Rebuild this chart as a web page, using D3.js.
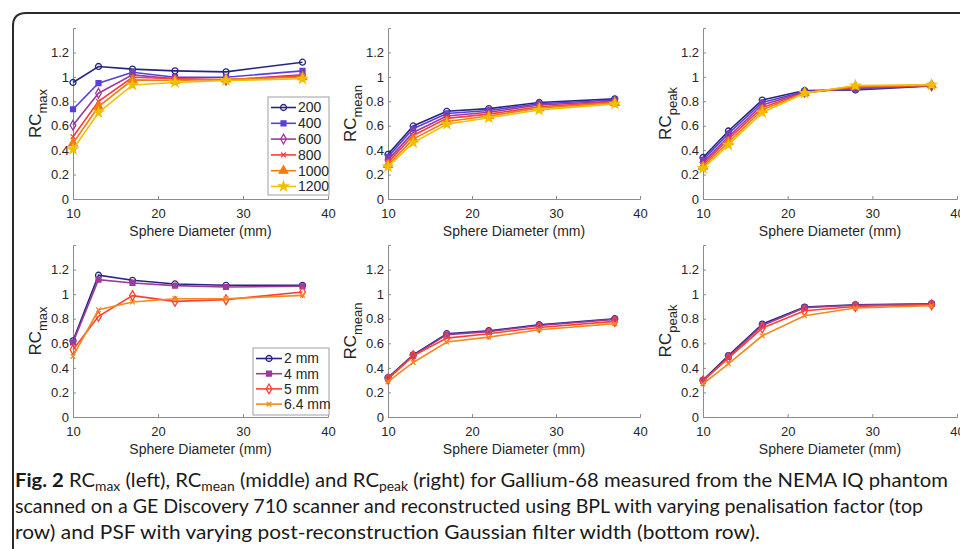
<!DOCTYPE html>
<html>
<head>
<meta charset="utf-8">
<script src="https://cdn.jsdelivr.net/npm/d3@7"></script>
<style>
  body { margin: 0; background: #fff; }
  svg { display: block; }
  .tick text { font-family: "Liberation Sans", Arial, sans-serif; font-size: 13px; fill: #262626; }
</style>
</head>
<body>
<div id="fig"></div>
<script>
// sphere diameters (mm)
var diameters = [10, 13, 17, 22, 28, 37];

// BPL penalisation factors (top row)
var penaltyLabels = ["200", "400", "600", "800", "1000", "1200"];
var bplMax = [
  [0.954, 1.085, 1.063, 1.049, 1.041, 1.12],
  [0.735, 0.948, 1.038, 0.997, 0.997, 1.049],
  [0.604, 0.866, 1.016, 0.984, 0.975, 1.016],
  [0.51, 0.80, 0.997, 0.984, 0.975, 1.008],
  [0.456, 0.757, 0.975, 0.97, 0.98, 0.997],
  [0.407, 0.708, 0.934, 0.954, 0.97, 0.984]
];
var bplMean = [
  [0.366, 0.598, 0.718, 0.74, 0.79, 0.82],
  [0.345, 0.575, 0.70, 0.725, 0.78, 0.81],
  [0.32, 0.545, 0.68, 0.71, 0.77, 0.80],
  [0.30, 0.52, 0.66, 0.695, 0.755, 0.795],
  [0.28, 0.49, 0.635, 0.68, 0.745, 0.787],
  [0.265, 0.462, 0.612, 0.665, 0.73, 0.779]
];
var bplPeak = [
  [0.34, 0.557, 0.81, 0.888, 0.893, 0.926],
  [0.32, 0.535, 0.79, 0.88, 0.90, 0.927],
  [0.30, 0.51, 0.77, 0.875, 0.91, 0.928],
  [0.28, 0.49, 0.75, 0.87, 0.915, 0.93],
  [0.265, 0.465, 0.73, 0.867, 0.922, 0.932],
  [0.25, 0.443, 0.708, 0.866, 0.929, 0.934]
];

// PSF Gaussian filter widths (bottom row)
var filterLabels = ["2 mm", "4 mm", "5 mm", "6.4 mm"];
var psfMax = [
  [0.62, 1.154, 1.113, 1.083, 1.072, 1.072],
  [0.607, 1.118, 1.091, 1.069, 1.058, 1.064],
  [0.547, 0.819, 0.988, 0.941, 0.955, 1.018],
  [0.493, 0.873, 0.936, 0.963, 0.963, 0.99]
];
var psfMean = [
  [0.321, 0.506, 0.678, 0.702, 0.751, 0.80],
  [0.315, 0.50, 0.67, 0.695, 0.745, 0.795],
  [0.31, 0.498, 0.642, 0.678, 0.729, 0.778],
  [0.288, 0.444, 0.61, 0.65, 0.71, 0.76]
];
var psfPeak = [
  [0.30, 0.50, 0.756, 0.895, 0.914, 0.922],
  [0.295, 0.49, 0.745, 0.89, 0.91, 0.92],
  [0.294, 0.479, 0.724, 0.865, 0.90, 0.914],
  [0.27, 0.433, 0.661, 0.824, 0.887, 0.906]
];

var xTicks = [10, 20, 30, 40];
var yTicks = [0, 0.2, 0.4, 0.6, 0.8, 1, 1.2];

// series styles
var bplStyle = [
  { color: "#262680", symbol: d3.symbolCircle, fill: false },
  { color: "#5b3fd9", symbol: d3.symbolSquare, fill: true, size: 24 },
  { color: "#9b3c9b", symbol: d3.symbolDiamond, fill: false },
  { color: "#ff3b3b", symbol: d3.symbolTimes, fill: false, size: 16 },
  { color: "#f07d10", symbol: d3.symbolTriangle, fill: true, size: 32 },
  { color: "#f0c000", symbol: d3.symbolStar, fill: true, size: 26 }
];
var psfStyle = [
  { color: "#262680", symbol: d3.symbolCircle, fill: false },
  { color: "#9b3c9b", symbol: d3.symbolSquare, fill: true, size: 24 },
  { color: "#ff4030", symbol: d3.symbolDiamond, fill: false },
  { color: "#f08a20", symbol: d3.symbolTimes, fill: false, size: 16 }
];

var width = 960, height = 549;

var svg = d3.select("#fig").append("svg")
  .attr("width", width)
  .attr("height", height);

// rounded figure frame
svg.append("path")
  .attr("d", "M13,549 V26 Q13,13 26,13 H960")
  .attr("fill", "none")
  .attr("stroke", "#2a2a2a")
  .attr("stroke-width", 2);

var font = '"Liberation Sans", Arial, sans-serif';

function panel(opt) {
  var x = d3.scaleLinear().domain([10, 40]).range(opt.xr);
  var y = d3.scaleLinear().domain([0, 1.4]).range(opt.yr);
  var g = svg.append("g");

  // axes (inside ticks, no box)
  var xa = g.append("g")
    .attr("transform", "translate(0," + opt.yr[0] + ")")
    .call(d3.axisBottom(x).tickValues(xTicks).tickSize(-3).tickPadding(7).tickFormat(d3.format("d")));
  var ya = g.append("g")
    .attr("transform", "translate(" + opt.xr[0] + ",0)")
    .call(d3.axisLeft(y).tickValues(yTicks).tickSize(-3).tickPadding(4).tickFormat(function(d) { return d; }));
  [xa, ya].forEach(function(a) {
    a.select(".domain").attr("stroke", "#8c8c8c").attr("stroke-width", 1);
    a.selectAll(".tick line").attr("stroke", "#8c8c8c");
  });
  xa.selectAll(".tick text").attr("dy", "0.9em");

  // x label
  g.append("text")
    .attr("x", (opt.xr[0] + opt.xr[1]) / 2)
    .attr("y", opt.yr[0] + 37)
    .attr("text-anchor", "middle")
    .attr("font-family", font)
    .attr("font-size", 14)
    .attr("fill", "#262626")
    .text("Sphere Diameter (mm)");

  // y label with subscript
  var yl = g.append("text")
    .attr("transform", "translate(" + (opt.xr[0] - 32) + "," + y(0.7) + ") rotate(-90)")
    .attr("text-anchor", "middle")
    .attr("font-family", font)
    .attr("font-size", 17)
    .attr("fill", "#262626");
  yl.append("tspan").text("RC");
  yl.append("tspan").attr("font-size", 13).attr("dy", 6).text(opt.sub);

  var line = d3.line()
    .x(function(d, i) { return x(diameters[i]); })
    .y(function(d) { return y(d); });

  opt.data.forEach(function(series, si) {
    var st = opt.styles[si];
    g.append("path")
      .datum(series)
      .attr("fill", "none")
      .attr("stroke", st.color)
      .attr("stroke-width", 1.6)
      .attr("d", line);
    g.selectAll(null)
      .data(series)
      .enter().append("path")
      .attr("transform", function(d, i) { return "translate(" + x(diameters[i]) + "," + y(d) + ")"; })
      .attr("d", d3.symbol().type(st.symbol).size(st.size || 28))
      .attr("fill", st.fill ? st.color : "none")
      .attr("stroke", st.color)
      .attr("stroke-width", 1.3);
  });

  if (opt.legend) {
    var L = opt.legend;
    var lg = g.append("g");
    lg.append("rect")
      .attr("x", L.x0).attr("y", L.y0)
      .attr("width", L.x1 - L.x0).attr("height", L.y1 - L.y0)
      .attr("fill", "#fff").attr("stroke", "#a0a0a0").attr("stroke-width", 1);
    L.labels.forEach(function(lab, i) {
      var st = opt.styles[i];
      var cy = L.first + i * L.step;
      lg.append("line")
        .attr("x1", L.lx0).attr("x2", L.lx1).attr("y1", cy).attr("y2", cy)
        .attr("stroke", st.color).attr("stroke-width", 1.6);
      lg.append("path")
        .attr("transform", "translate(" + (L.lx0 + L.lx1) / 2 + "," + cy + ")")
        .attr("d", d3.symbol().type(st.symbol).size(st.size || 28))
        .attr("fill", st.fill ? st.color : "none")
        .attr("stroke", st.color)
        .attr("stroke-width", 1.3);
      lg.append("text")
        .attr("x", L.lx1 + 2).attr("y", cy)
        .attr("dy", "0.35em")
        .attr("font-family", font)
        .attr("font-size", 14)
        .attr("fill", "#262626")
        .text(lab);
    });
  }
}

var cols = [[73, 328], [388, 640], [703, 957]];
var rows = [[199, 28], [417, 245]];

panel({ xr: cols[0], yr: rows[0], sub: "max", data: bplMax, styles: bplStyle,
  legend: { x0: 268, x1: 329, y0: 97, y1: 195, first: 107.5, step: 15.8, lx0: 271, lx1: 296, labels: penaltyLabels } });
panel({ xr: cols[1], yr: rows[0], sub: "mean", data: bplMean, styles: bplStyle });
panel({ xr: cols[2], yr: rows[0], sub: "peak", data: bplPeak, styles: bplStyle });
panel({ xr: cols[0], yr: rows[1], sub: "max", data: psfMax, styles: psfStyle,
  legend: { x0: 253, x1: 329, y0: 348, y1: 415, first: 358.5, step: 15.2, lx0: 256, lx1: 282, labels: filterLabels } });
panel({ xr: cols[1], yr: rows[1], sub: "mean", data: psfMean, styles: psfStyle });
panel({ xr: cols[2], yr: rows[1], sub: "peak", data: psfPeak, styles: psfStyle });

// caption
var capFont = 'Lato, "Open Sans", sans-serif';
var cap = svg.append("g")
  .attr("font-family", capFont)
  .attr("font-size", 19)
  .attr("fill", "#1a1a1a");

var l1 = cap.append("text").attr("x", 15).attr("y", 487)
  .attr("textLength", 933).attr("lengthAdjust", "spacingAndGlyphs");
l1.append("tspan").attr("font-weight", "bold").text("Fig. 2");
l1.append("tspan").text(" RC");
l1.append("tspan").attr("font-size", 13).attr("dy", 4).text("max");
l1.append("tspan").attr("dy", -4).text(" (left), RC");
l1.append("tspan").attr("font-size", 13).attr("dy", 4).text("mean");
l1.append("tspan").attr("dy", -4).text(" (middle) and RC");
l1.append("tspan").attr("font-size", 13).attr("dy", 4).text("peak");
l1.append("tspan").attr("dy", -4).text(" (right) for Gallium-68 measured from the NEMA IQ phantom");

cap.append("text").attr("x", 15).attr("y", 513)
  .attr("textLength", 908).attr("lengthAdjust", "spacingAndGlyphs")
  .text("scanned on a GE Discovery 710 scanner and reconstructed using BPL with varying penalisation factor (top");
cap.append("text").attr("x", 15).attr("y", 539)
  .attr("textLength", 745).attr("lengthAdjust", "spacingAndGlyphs")
  .text("row) and PSF with varying post-reconstruction Gaussian filter width (bottom row).");
</script>
</body>
</html>
